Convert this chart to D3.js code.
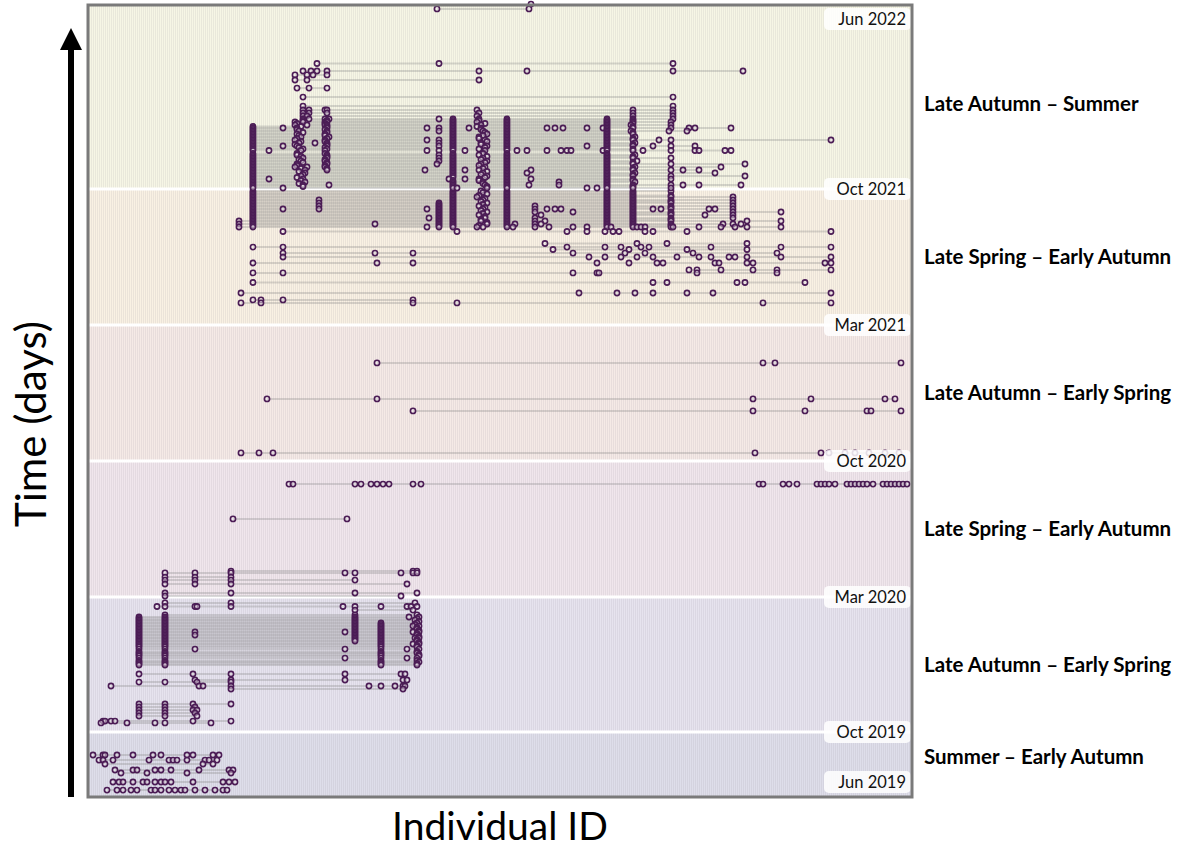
<!DOCTYPE html>
<html>
<head>
<meta charset="utf-8">
<script src="https://cdn.jsdelivr.net/npm/d3@7"></script>
<style>
  body { margin: 0; background: #ffffff; }
  svg { display: block; font-family: Lato, "Open Sans", "DejaVu Sans", sans-serif; }
</style>
</head>
<body>
<svg id="chart" width="1185" height="850"></svg>
<script>
// ---- Data -------------------------------------------------------------
// Number of individuals along the x axis
const idCount = 412;

// Season boundaries, in sampling-day units along the y axis
const boundaryDays = [5, 21.7, 66.7, 112, 157.3, 202.7, 259.3];
const boundaryLabels = ["Jun 2019", "Oct 2019", "Mar 2020", "Oct 2020", "Mar 2021", "Oct 2021", "Jun 2022"];
const seasonNames = [
  "Summer \u2013 Early Autumn",
  "Late Autumn \u2013 Early Spring",
  "Late Spring \u2013 Early Autumn",
  "Late Autumn \u2013 Early Spring",
  "Late Spring \u2013 Early Autumn",
  "Late Autumn \u2013 Summer"
];
// Background band edges (day units) and tints, bottom to top
const bandEdges = [0, 21.7, 66.7, 112, 157.3, 202.7, 264];
const bandColors = ["#dedeea", "#e6e3ee", "#f0e6ec", "#f5eae6", "#f9f1e3", "#f6f6e5"];

// Sightings: [day, [individual ids seen that day]]
const summer2019 = [
  [14, [2, 7, 8, 14, 22, 32, 36, 49, 52, 62, 65]],
  [12.3, [5, 7, 12, 30, 40, 42, 44, 49, 58, 60, 64]],
  [11, [8, 57, 62]],
  [9, [13, 22, 24, 33, 36, 41, 55, 70, 72]],
  [8, [16, 29, 49, 71]],
  [5, [12, 15, 17, 22, 27, 29, 33, 36, 38, 41, 52, 67, 70, 73]],
  [2.3, [9, 14, 17, 21, 24, 31, 33, 36, 40, 43, 46, 48, 53, 58, 63, 67, 69]]
];

const winter2019 = [
  [64.7, [38, 71, 163]],
  [63.5, [34, 38, 53, 54, 71, 127, 133, 146, 159, 161, 164]],
  [62.3, [133, 162]],
  [60.7, [38, 133, 164]],
  [60, [25, 38, 133, 160, 165]],
  [59.5, [25, 38, 133, 164]],
  [59, [25, 38, 133, 163]],
  [58.5, [25, 38, 133, 165]],
  [58, [25, 38, 133, 146, 164]],
  [57.5, [25, 38, 133, 146, 163]],
  [57, [25, 38, 133, 146, 162, 165]],
  [56.5, [25, 38, 133, 146, 164]],
  [56, [25, 38, 133, 146, 164]],
  [55.5, [25, 38, 133, 146, 165]],
  [55, [25, 38, 53, 128, 133, 146, 162, 165]],
  [54.5, [25, 38, 133, 146, 164]],
  [54, [25, 38, 53, 133, 146, 164]],
  [53.5, [25, 38, 133, 146, 165]],
  [53, [25, 38, 133, 146, 163, 165]],
  [52.5, [25, 38, 133, 146, 164]],
  [52, [25, 38, 133, 146, 164]],
  [51.5, [25, 38, 146, 165]],
  [51, [25, 38, 146, 162, 165]],
  [50.5, [25, 38, 146, 164]],
  [50, [25, 38, 146, 164]],
  [49.3, [25, 38, 53, 128, 146, 159, 165]],
  [48.5, [25, 38, 146, 164]],
  [48, [25, 38, 146, 164]],
  [47.5, [25, 38, 146, 165]],
  [47, [25, 38, 146, 165]],
  [46.3, [25, 38, 128, 146, 159, 164]],
  [45.5, [25, 38, 146, 164]],
  [45, [25, 38, 146, 165]],
  [44.5, [25, 38, 146, 164]],
  [44, [25, 38, 146, 164]],
  [41, [25, 52, 71, 128, 156, 158]],
  [39, [53, 71, 128, 157, 159]],
  [38.3, [25, 38, 54, 71]],
  [37, [11, 55, 57, 71, 140, 146, 153, 157, 158]],
  [36, [71, 157]],
  [31, [25, 38, 52, 71]],
  [30, [25, 38, 53]],
  [29, [25, 38, 52, 54]],
  [28, [25, 38, 53]],
  [27, [25, 38, 54]],
  [25.3, [7, 8, 11, 13, 52, 71]],
  [24.7, [6, 19, 33, 38, 61]]
];

const summer2020 = [
  [104.3, [100, 102, 133, 136, 141, 144, 147, 150, 162, 166, 335, 337, 347, 350, 354,
           364, 366, 368, 370, 373, 379, 381, 383, 385, 387, 389, 392, 397, 399, 401,
           403, 405, 407, 409]],
  [92.7, [72, 129]],
  [75.3, [71, 162, 164]],
  [74.7, [38, 53, 71, 128, 133, 156, 162, 164]],
  [73.3, [38, 53, 71]],
  [72.3, [38, 53, 71, 133]],
  [71, [38, 53, 71, 159]],
  [68, [38, 71, 133, 164]],
  [67, [38, 156]]
];

const winter2020 = [
  [144.7, [144, 337, 343, 406]],
  [132.7, [89, 144, 332, 361, 398, 403]],
  [128.7, [162, 332, 358, 389, 391, 406]],
  [114.7, [76, 85, 92, 333, 366, 370, 378, 383, 390, 398, 405]]
];

const summer2021 = [
  [202, [82, 182, 196, 209, 259, 272, 291]],
  [201.5, [82, 182, 197, 209, 259, 272]],
  [201, [82, 182, 199, 209, 259, 272]],
  [200.5, [82, 182, 195, 209, 259, 272, 291]],
  [200, [82, 182, 194, 209, 259, 272, 291, 322]],
  [199.5, [82, 182, 198, 209, 259, 272]],
  [199, [82, 115, 182, 197, 209, 259, 272, 291, 322]],
  [198.5, [82, 182, 196, 209, 259, 272, 291]],
  [198, [82, 115, 175, 182, 199, 209, 259, 272, 291, 322]],
  [197.5, [82, 175, 182, 197, 209, 259, 272]],
  [197, [82, 115, 175, 182, 195, 209, 223, 259, 272, 291, 322]],
  [196.5, [82, 175, 182, 198, 209, 259, 272, 291]],
  [196, [82, 97, 115, 169, 175, 182, 197, 209, 223, 229, 233, 236, 259, 272, 282, 286, 291, 310, 313, 322]],
  [195.5, [82, 175, 182, 196, 209, 259, 272]],
  [195, [82, 175, 182, 199, 209, 223, 242, 259, 272, 291, 322, 346]],
  [194.5, [82, 175, 182, 197, 209, 259, 272, 291]],
  [194, [82, 175, 182, 195, 209, 226, 259, 272, 291, 308, 322]],
  [193.5, [82, 175, 182, 198, 209, 259, 272]],
  [193, [82, 170, 175, 182, 198, 209, 223, 259, 272, 291, 322]],
  [192.5, [82, 175, 182, 196, 209, 259, 272, 291]],
  [192, [75, 82, 175, 182, 196, 209, 223, 228, 259, 272, 291, 329, 346]],
  [191.5, [82, 175, 182, 199, 209, 259, 272]],
  [191, [75, 82, 143, 175, 182, 199, 209, 213, 223, 226, 259, 272, 291, 317, 322, 326]],
  [190.5, [82, 175, 182, 195, 209, 259, 272, 291]],
  [190, [75, 82, 169, 175, 182, 194, 197, 209, 212, 223, 230, 242, 249, 259, 261, 272, 274,
         276, 278, 291, 292, 305, 316, 323, 329, 346]],
  [188.5, [97, 184, 239, 249, 258, 262, 265, 278, 282, 299, 371]],
  [184.5, [228, 274, 289, 329]],
  [183.3, [82, 97, 239, 258, 266, 276, 280, 311, 346, 371]],
  [182.5, [232, 270, 299, 329]],
  [181.3, [97, 143, 162, 242, 268, 278, 302, 344]],
  [180, [97, 250, 258, 266, 274, 282, 294, 305, 311, 320, 323, 329, 346, 371]],
  [178, [82, 144, 162, 254, 270, 284, 287, 313, 315, 329, 332, 368, 371]],
  [175.7, [300, 304, 316, 332, 344, 371]],
  [174.7, [82, 97, 242, 254, 255, 304, 344]],
  [171.5, [82, 282, 289, 324, 328, 358]],
  [168, [76, 245, 264, 273, 282, 299, 312, 371]],
  [165.7, [82, 86, 97, 162]],
  [164.7, [76, 86, 162, 184, 337, 371]]
];

const winter2021 = [
  [264.3, [221]],
  [262.7, [174, 220]],
  [244.5, [114, 175, 292]],
  [242, [107, 111, 114, 119, 195, 219, 292, 327]],
  [240.7, [103, 109, 112, 119]],
  [239, [103, 109, 195]],
  [236.3, [104, 110, 119]],
  [233.3, [107, 292]],
  [230.3, [107, 292]],
  [229, [107, 110, 118, 119, 194, 272, 292]],
  [228, [107, 110, 119, 195, 272, 292]],
  [227, [107, 109, 194, 272, 292]],
  [226, [107, 110, 118, 120, 175, 182, 195, 209, 259, 272, 292]],
  [225.5, [107, 119, 182, 195, 209, 259, 272]],
  [225, [103, 107, 118, 119, 182, 194, 209, 259, 272, 291]],
  [224.5, [104, 118, 182, 198, 209, 259, 272]],
  [224, [103, 109, 118, 119, 182, 196, 209, 259, 271, 291]],
  [223.5, [82, 106, 119, 182, 194, 209, 259, 272]],
  [223, [82, 97, 104, 119, 169, 175, 182, 190, 196, 209, 229, 233, 237, 249, 257, 259, 272,
         291, 300, 303, 321]],
  [222.5, [82, 104, 118, 182, 196, 209, 259]],
  [222, [82, 105, 119, 175, 182, 197, 209, 259, 271, 290, 299]],
  [221.5, [82, 107, 119, 182, 198, 209, 259, 272]],
  [221, [82, 104, 118, 182, 199, 209, 259, 272]],
  [220.5, [82, 105, 118, 182, 197, 209, 259]],
  [220, [82, 106, 120, 182, 195, 209, 259, 273]],
  [219.5, [82, 104, 119, 182, 195, 209, 259, 272]],
  [219, [82, 103, 118, 169, 175, 182, 198, 209, 259, 272, 285, 291, 371]],
  [218.5, [82, 106, 118, 182, 199, 209, 259]],
  [218, [82, 105, 113, 119, 175, 182, 196, 209, 259, 273]],
  [217.5, [82, 103, 119, 182, 196, 209, 259, 272]],
  [217, [82, 97, 104, 119, 175, 182, 199, 209, 249, 259, 272, 282, 291, 303]],
  [216.5, [82, 105, 118, 182, 198, 209, 259]],
  [216, [82, 107, 119, 182, 195, 209, 259, 272]],
  [215.5, [82, 90, 106, 118, 169, 175, 182, 188, 198, 209, 214, 219, 229, 236, 239, 241, 257,
           259, 272, 277, 291, 303, 305, 318, 321]],
  [214.5, [82, 104, 118, 182, 197, 209, 259]],
  [214, [82, 104, 119, 175, 182, 195, 209, 259, 273]],
  [213.5, [82, 106, 119, 182, 199, 209, 259, 272]],
  [213, [82, 107, 119, 175, 182, 197, 209, 259, 272, 291]],
  [212.5, [82, 105, 118, 182, 196, 209, 259]],
  [212, [82, 106, 118, 175, 182, 199, 209, 259, 274]],
  [211.5, [82, 107, 119, 182, 198, 209, 259, 272]],
  [211, [82, 104, 119, 174, 182, 196, 209, 259, 272, 291, 328]],
  [210.5, [82, 104, 118, 182, 195, 209, 259]],
  [210, [82, 103, 109, 118, 182, 198, 209, 259, 273, 316]],
  [209.5, [82, 106, 119, 182, 197, 209, 259, 272]],
  [209, [82, 108, 119, 168, 182, 188, 195, 209, 221, 259, 272, 291, 297, 305]],
  [208.5, [82, 105, 182, 199, 209, 259]],
  [208, [82, 108, 182, 197, 209, 219, 259, 273, 313]],
  [207.5, [82, 107, 182, 196, 209, 259, 272]],
  [207, [82, 106, 182, 199, 209, 259, 272, 291, 328]],
  [206.5, [82, 104, 182, 198, 209, 259]],
  [206, [82, 90, 107, 180, 188, 195, 209, 221, 259, 272, 291]],
  [205.5, [82, 106, 182, 195, 209, 259, 272]],
  [205, [82, 108, 182, 197, 209, 235, 259, 273]],
  [204.5, [82, 105, 182, 197, 209, 259]],
  [204, [82, 107, 120, 182, 198, 209, 220, 235, 259, 272, 291, 297, 305, 326]],
  [203.5, [82, 107, 182, 199, 209, 259, 272]],
  [203, [82, 97, 182, 184, 199, 209, 249, 254, 259, 272, 291]]
];

const sightingDays = [].concat(summer2019, winter2019, summer2020, winter2020, summer2021, winter2021);

// ---- Layout -------------------------------------------------------------
const svg = d3.select("#chart");
const plot = { left: 88, right: 912, top: 5, bottom: 797 };

const x = d3.scaleLinear().domain([-0.5, idCount - 0.5]).range([plot.left, plot.right]);
const y = d3.scaleLinear().domain([0, 264]).range([plot.bottom, plot.top]);

// Season bands
svg.append("g").selectAll("rect")
  .data(d3.pairs(bandEdges))
  .join("rect")
  .attr("x", plot.left)
  .attr("width", plot.right - plot.left)
  .attr("y", d => y(d[1]))
  .attr("height", d => y(d[0]) - y(d[1]))
  .attr("fill", (d, i) => bandColors[i]);

// One faint vertical guide per individual
svg.append("g")
  .attr("shape-rendering", "crispEdges")
  .selectAll("line")
  .data(d3.range(idCount))
  .join("line")
  .attr("x1", d => Math.round(x(d)) + 0.5)
  .attr("x2", d => Math.round(x(d)) + 0.5)
  .attr("y1", plot.top)
  .attr("y2", plot.bottom)
  .attr("stroke", "#8f8a99")
  .attr("stroke-opacity", 0.13)
  .attr("stroke-width", 1);

// White season separators
svg.append("g").selectAll("line")
  .data(boundaryDays.slice(1, -1))
  .join("line")
  .attr("x1", plot.left)
  .attr("x2", plot.right)
  .attr("y1", d => y(d))
  .attr("y2", d => y(d))
  .attr("stroke", "#ffffff")
  .attr("stroke-width", 3);

// Links between individuals seen on the same day
svg.append("g").selectAll("line")
  .data(sightingDays)
  .join("line")
  .attr("x1", d => x(d3.min(d[1])))
  .attr("x2", d => x(d3.max(d[1])))
  .attr("y1", d => y(d[0]))
  .attr("y2", d => y(d[0]))
  .attr("stroke", "#858583")
  .attr("stroke-opacity", 0.3)
  .attr("stroke-width", 2);

// Sighting markers
const points = sightingDays.flatMap(d => d[1].map(id => ({ day: d[0], id })));
svg.append("g").selectAll("circle")
  .data(points)
  .join("circle")
  .attr("cx", d => x(d.id))
  .attr("cy", d => y(d.day))
  .attr("r", 2.6)
  .attr("fill", "#f3ecf2")
  .attr("fill-opacity", 0.5)
  .attr("stroke", "#4b1c55")
  .attr("stroke-width", 1.6);

// Date tags on the season boundaries
const tags = svg.append("g").selectAll("g")
  .data(boundaryDays.map((d, i) => ({ day: d, label: boundaryLabels[i] })))
  .join("g")
  .attr("transform", d => `translate(0,${y(d.day)})`);
tags.append("rect")
  .attr("x", 824).attr("y", -11)
  .attr("width", 87).attr("height", 22)
  .attr("rx", 5)
  .attr("fill", "#ffffff")
  .attr("fill-opacity", 0.85);
tags.append("text")
  .attr("x", 906).attr("y", 0)
  .attr("dy", "0.35em")
  .attr("text-anchor", "end")
  .attr("font-size", 16.5)
  .attr("fill", "#111")
  .text(d => d.label);

// Plot frame
svg.append("rect")
  .attr("x", plot.left).attr("y", plot.top)
  .attr("width", plot.right - plot.left).attr("height", plot.bottom - plot.top)
  .attr("fill", "none")
  .attr("stroke", "#7a7a7a")
  .attr("stroke-width", 3);

// Season names to the right of the plot
svg.append("g").selectAll("text")
  .data(seasonNames)
  .join("text")
  .attr("x", 924)
  .attr("y", (d, i) => y((boundaryDays[i] + boundaryDays[i + 1]) / 2))
  .attr("dy", "0.35em")
  .attr("font-size", 20.5)
  .attr("font-weight", 700)
  .attr("fill", "#000")
  .text(d => d);

// Time arrow along the y axis
svg.append("rect")
  .attr("x", 68).attr("y", 48)
  .attr("width", 6).attr("height", plot.bottom - 48)
  .attr("fill", "#000");
svg.append("path")
  .attr("d", "M71,28 L82,50 L60,50 Z")
  .attr("fill", "#000");

// Axis titles
svg.append("text")
  .attr("transform", "translate(46,424) rotate(-90)")
  .attr("text-anchor", "middle")
  .attr("font-size", 42)
  .attr("fill", "#000")
  .text("Time (days)");
svg.append("text")
  .attr("x", 500).attr("y", 840)
  .attr("text-anchor", "middle")
  .attr("font-size", 39)
  .attr("fill", "#000")
  .text("Individual ID");
</script>
</body>
</html>
